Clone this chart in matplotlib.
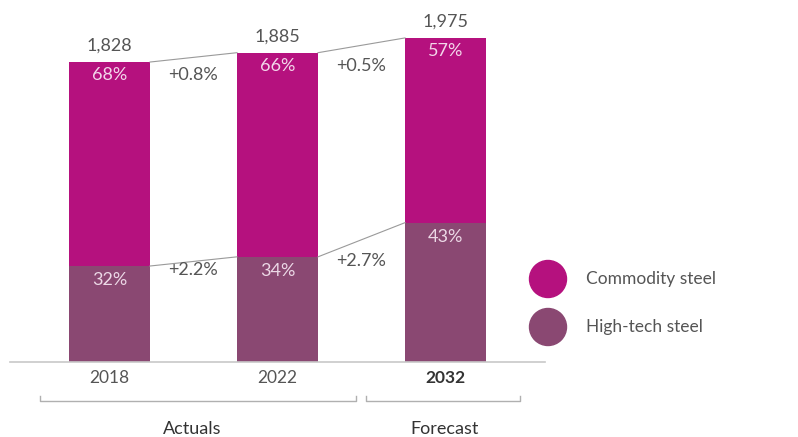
import matplotlib.pyplot as plt
from matplotlib.patches import Ellipse

plt.rcParams['font.family'] = ['Lato', 'DejaVu Sans']

# Data
years = ["2018", "2022", "2032"]
totals = [1828, 1885, 1975]
commodity_pct = [68, 66, 57]
hightech_pct = [32, 34, 43]
growth_total = ["+0.8%", "+0.5%"]
growth_hightech = ["+2.2%", "+2.7%"]

c_comm = "#B5117E"
c_high = "#8A4872"
gray = "#555555"
line_gray = "#9a9a9a"

W, H = 798, 437
fig = plt.figure(figsize=(W / 100, H / 100), dpi=100)

# axes placed in pixel terms: baseline at y=362, axis from x=10 to 545
ax = fig.add_axes([10 / W, (H - 362) / H, 535 / W, 361 / H])
ax.set_xlim(-0.592, 2.592)
ax.set_ylim(0, 2200)

x = list(range(len(years)))
bw = 0.482
high_vals = [t * p / 100 for t, p in zip(totals, hightech_pct)]
comm_vals = [t - h for t, h in zip(totals, high_vals)]

ax.bar(x, high_vals, width=bw, color=c_high)
ax.bar(x, comm_vals, width=bw, bottom=high_vals, color=c_comm)

fs = 13
for i in x:
    ax.annotate(f"{totals[i]:,}", (i, totals[i]), xytext=(0, 16), textcoords="offset pixels",
                ha="center", va="center", fontsize=fs, color=gray)
    ax.annotate(f"{commodity_pct[i]}%", (i, totals[i]), xytext=(0, -13), textcoords="offset pixels",
                ha="center", va="center", fontsize=fs, color="#f3d6ea")
    ax.annotate(f"{hightech_pct[i]}%", (i, high_vals[i]), xytext=(0, -14), textcoords="offset pixels",
                ha="center", va="center", fontsize=fs, color="#ecd8e6")

# connecting lines and growth labels
for i in range(len(years) - 1):
    x0, x1 = i + bw / 2, i + 1 - bw / 2
    ax.plot([x0, x1], [totals[i], totals[i + 1]], color=line_gray, lw=0.8)
    ax.plot([x0, x1], [high_vals[i], high_vals[i + 1]], color=line_gray, lw=0.8)
    xm = i + 0.5
    ax.annotate(growth_total[i], (xm, totals[i]), xytext=(0, -13),
                textcoords="offset pixels", ha="center", va="center", fontsize=fs, color=gray)
    ax.annotate(growth_hightech[i], (xm, high_vals[i]), xytext=(0, -4),
                textcoords="offset pixels", ha="center", va="center", fontsize=fs, color=gray)

for s in ["top", "right", "left"]:
    ax.spines[s].set_visible(False)
ax.spines["bottom"].set_color("#c8c8c8")
ax.spines["bottom"].set_linewidth(1.2)
ax.set_yticks([])
ax.set_xticks(x)
ax.set_xticklabels(years, fontsize=12.5, color=gray)
ax.tick_params(axis="x", length=0, pad=6)
lbl = ax.get_xticklabels()[-1]
lbl.set_fontweight("bold")
lbl.set_color("#333333")


def px(xp, yp):
    return xp / W, 1 - yp / H


# brackets
for xa, xb in [(40, 356), (366, 520)]:
    xs = [xa, xa, xb, xb]
    ys = [396, 401, 401, 396]
    fig.add_artist(plt.Line2D([v / W for v in xs], [1 - v / H for v in ys],
                              color="#b0b0b0", lw=1.0, transform=fig.transFigure))
fig.text(*px(192, 429), "Actuals", ha="center", va="center", fontsize=13, color="#333333")
fig.text(*px(445, 429), "Forecast", ha="center", va="center", fontsize=13, color="#333333")

# legend
for yp, col, name in [(279, c_comm, "Commodity steel"), (327, c_high, "High-tech steel")]:
    fig.add_artist(Ellipse(px(548, yp), width=37 / W, height=37 / H, color=col,
                           transform=fig.transFigure))
    fig.text(*px(586, yp), name, ha="left", va="center", fontsize=12.5, color=gray)

fig.savefig("out.png", dpi=100)
